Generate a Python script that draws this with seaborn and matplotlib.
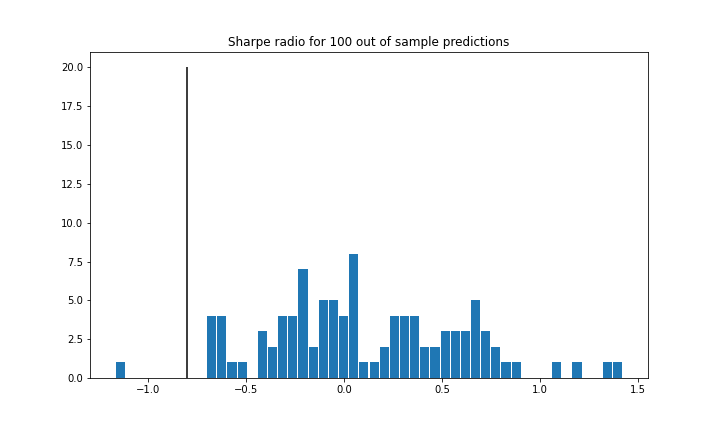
import numpy as np
import pandas as pd
import matplotlib
matplotlib.use('Agg')
import matplotlib.pyplot as plt
import seaborn as sns

# histogram of sharpe ratios, 50 bins between min and max
sharpe_min = -1.166
sharpe_max = 1.42
n_bins = 50
counts = [1, 0, 0, 0, 0, 0, 0, 0, 0, 4,
          4, 1, 1, 0, 3, 2, 4, 4, 7, 2,
          5, 5, 4, 8, 1, 1, 2, 4, 4, 4,
          2, 2, 3, 3, 3, 5, 3, 2, 1, 1,
          0, 0, 0, 1, 0, 1, 0, 0, 1, 1]
benchmark = -0.8
benchmark_height = 20

edges = np.linspace(sharpe_min, sharpe_max, n_bins + 1)
df = pd.DataFrame({'sharpe': (edges[:-1] + edges[1:]) / 2, 'count': counts})

fig, ax = plt.subplots(figsize=(10, 6), dpi=72)
fig.subplots_adjust(left=0.125, right=0.9, top=0.88, bottom=0.125)

sns.histplot(data=df, x='sharpe', weights='count', bins=n_bins,
             binrange=(sharpe_min, sharpe_max), shrink=0.9,
             color='#1f77b4', alpha=1, linewidth=0, ax=ax)
ax.vlines(benchmark, 0, benchmark_height, color='black', linewidth=1.5)

ax.set_title('Sharpe radio for 100 out of sample predictions')
ax.set_xlabel('')
ax.set_ylabel('')
ax.set_xlim(sharpe_min - 0.05 * (sharpe_max - sharpe_min),
            sharpe_max + 0.05 * (sharpe_max - sharpe_min))
ax.set_ylim(0, 21)
ax.set_yticks(np.arange(0, 20.1, 2.5))

fig.savefig('out.png', dpi=72, facecolor='white')
